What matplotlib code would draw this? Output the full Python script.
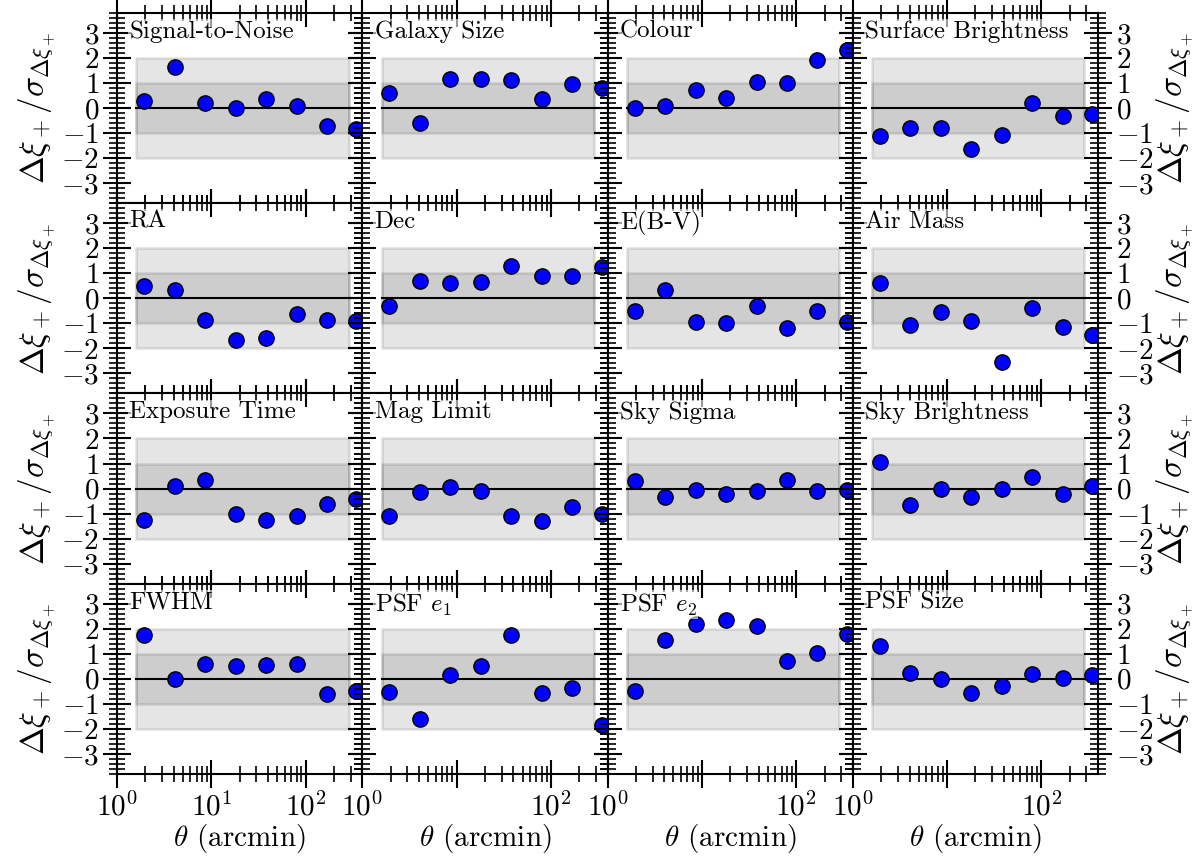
import numpy as np
import matplotlib; matplotlib.use("Agg")
import matplotlib.pyplot as plt
from matplotlib.ticker import FixedLocator, FixedFormatter, MultipleLocator, LogLocator, NullFormatter

plt.rcParams["font.family"] = ["cmr10", "DejaVu Serif"]
plt.rcParams["mathtext.fontset"] = "cm"
plt.rcParams["axes.formatter.use_mathtext"] = True
plt.rcParams["axes.unicode_minus"] = True

# angular bin centres (arcmin)
theta = [1.94, 4.08, 8.6, 18.1, 38.0, 80.0, 168.0, 345.0]
band_lo, band_hi = 1.6, 285.0

names = ["Signal-to-Noise", "Galaxy Size", "Colour", "Surface Brightness",
         "RA", "Dec", "E(B-V)", "Air Mass",
         "Exposure Time", "Mag Limit", "Sky Sigma", "Sky Brightness",
         "FWHM", r"PSF $e_1$", r"PSF $e_2$", "PSF Size"]

snr        = [0.29, 1.62, 0.22, 0.0, 0.36, 0.08, -0.70, -0.84]
gal_size   = [0.60, -0.60, 1.15, 1.15, 1.10, 0.35, 0.95, 0.80]
colour     = [0.0, 0.10, 0.70, 0.40, 1.05, 1.00, 1.90, 2.30]
surf_bri   = [-1.11, -0.78, -0.80, -1.64, -1.08, 0.22, -0.31, -0.24]
ra         = [0.48, 0.35, -0.88, -1.68, -1.58, -0.64, -0.85, -0.89]
dec        = [-0.30, 0.70, 0.60, 0.65, 1.30, 0.90, 0.90, 1.25]
ebv        = [-0.50, 0.35, -0.95, -1.00, -0.30, -1.20, -0.50, -0.95]
air_mass   = [0.60, -1.05, -0.55, -0.90, -2.55, -0.40, -1.15, -1.45]
exp_time   = [-1.25, 0.10, 0.35, -1.00, -1.25, -1.10, -0.60, -0.40]
mag_limit  = [-1.10, -0.15, 0.05, -0.10, -1.10, -1.30, -0.75, -1.00]
sky_sigma  = [0.30, -0.35, -0.05, -0.20, -0.10, 0.35, -0.10, -0.05]
sky_bri    = [1.05, -0.65, 0.0, -0.35, 0.0, 0.45, -0.20, 0.10]
fwhm       = [1.75, 0.0, 0.60, 0.50, 0.55, 0.60, -0.60, -0.50]
psf_e1     = [-0.53, -1.60, 0.16, 0.52, 1.77, -0.55, -0.36, -1.84]
psf_e2     = [-0.50, 1.55, 2.20, 2.35, 2.10, 0.70, 1.05, 1.80]
psf_size   = [1.30, 0.25, 0.0, -0.55, -0.30, 0.20, 0.05, 0.15]

series = [snr, gal_size, colour, surf_bri, ra, dec, ebv, air_mass,
          exp_time, mag_limit, sky_sigma, sky_bri, fwhm, psf_e1, psf_e2, psf_size]

fig, axes = plt.subplots(4, 4, figsize=(12.03, 8.59), dpi=100)
fig.subplots_adjust(left=0.0973, right=0.9127, top=0.985, bottom=0.099, wspace=0, hspace=0)

ylab = r"$\Delta\xi_+/\sigma_{\Delta\xi_+}$"
yt = [-3, -2, -1, 0, 1, 2, 3]
for i, ax in enumerate(axes.flat):
    r, c = divmod(i, 4)
    ax.set_xscale("log")
    ax.set_xlim(1, 10**2.6)
    ax.set_ylim(-3.8, 3.8)
    bx = [band_lo, band_hi]
    ax.fill_between(bx, -2, 2, color="k", alpha=0.1, lw=2)
    ax.fill_between(bx, -1, 1, color="k", alpha=0.1, lw=2)
    ax.plot(bx, [0, 0], "k-", lw=1.5)
    ax.plot(theta, series[i], "o", ms=11, mfc="blue", mec="k", mew=1.0)
    ax.text(0.05, 0.96, names[i], transform=ax.transAxes, va="top", ha="left",
            fontsize=18, bbox=dict(facecolor="white", alpha=0.6, edgecolor="none", pad=1))

    ax.yaxis.set_major_locator(FixedLocator(yt))
    ax.yaxis.set_major_formatter(FixedFormatter([r"$%d$" % v if v >= 0 else r"$-%d$" % -v for v in yt]))
    ax.yaxis.set_minor_locator(MultipleLocator(0.2))
    ax.xaxis.set_major_locator(FixedLocator([1, 10, 100]))
    if c == 0:
        ax.xaxis.set_major_formatter(FixedFormatter([r"$10^{0}$", r"$10^{1}$", r"$10^{2}$"]))
    else:
        ax.xaxis.set_major_formatter(FixedFormatter([r"$10^{0}$", "", r"$10^{2}$"]))
    ax.xaxis.set_minor_locator(LogLocator(base=10, subs=np.arange(2, 10)))
    ax.xaxis.set_minor_formatter(NullFormatter())
    ax.tick_params(which="both", direction="inout", top=True, right=True, labelsize=21)
    ax.tick_params(which="major", length=20, width=1.5)
    ax.tick_params(which="minor", length=12, width=1.2)
    ax.tick_params(axis="y", pad=3)
    for s in ax.spines.values():
        s.set_linewidth(1.5)

    ax.tick_params(labelleft=(c == 0), labelright=(c == 3), labelbottom=(r == 3))
    if c == 0:
        ax.set_ylabel(ylab, fontsize=24, labelpad=2)
    if c == 3:
        ax.yaxis.set_label_position("right")
        ax.set_ylabel(ylab, fontsize=24, labelpad=0)
    if r == 3:
        ax.set_xlabel(r"$\theta$ (arcmin)", fontsize=21, labelpad=0)

fig.savefig("out.png", dpi=100)
